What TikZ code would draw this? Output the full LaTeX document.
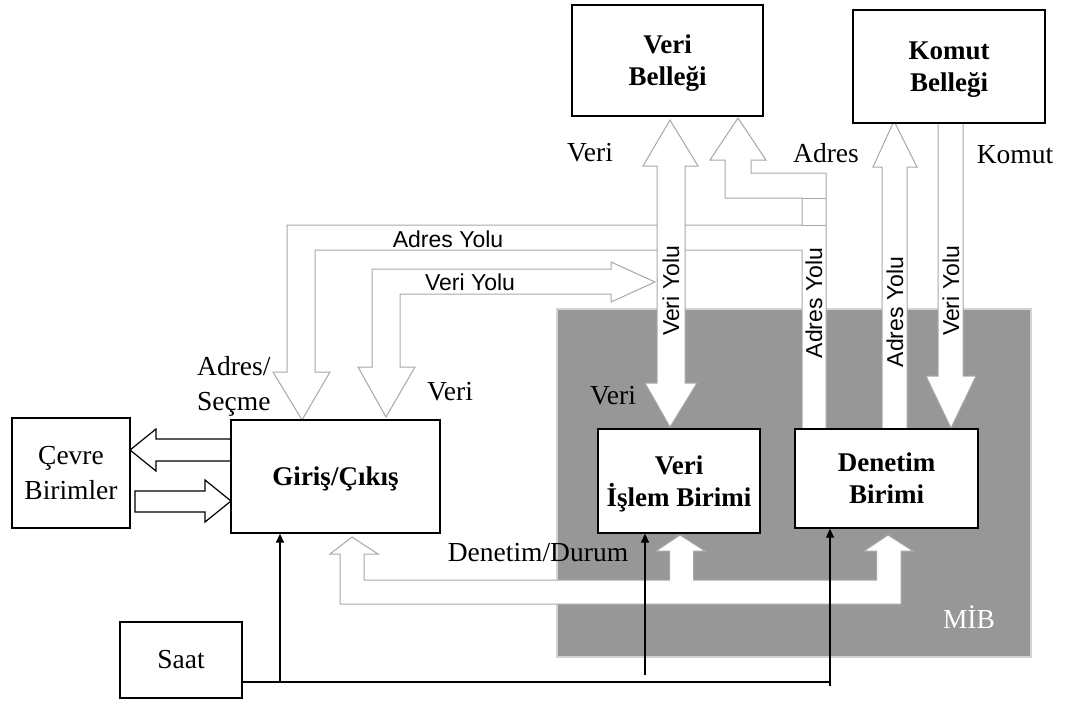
\documentclass[tikz,border=0pt]{standalone}
\usepackage{fontspec}
\setmainfont{Liberation Serif}
\newfontfamily\arialf{Liberation Sans}
\usetikzlibrary{arrows.meta}
\definecolor{mibgray}{HTML}{979797}
\definecolor{mibedge}{HTML}{D2D2D2}
\definecolor{busline}{HTML}{A8A8A8}
\tikzset{
 blk/.style={draw=black, line width=1.3pt, fill=white, inner sep=0pt, align=center, text depth=0pt, font=\fontsize{27}{32}\selectfont\bfseries},
 plainbox/.style={draw=black, line width=1.3pt, fill=white, inner sep=0pt, align=center, font=\fontsize{27.5}{35}\selectfont},
 lbl/.style={inner sep=0pt, font=\fontsize{27.5}{35}\selectfont},
 lbls/.style={inner sep=0pt, font=\arialf\fontsize{23}{26}\selectfont},
 bus/.style={draw=busline, line width=1pt, fill=white, line join=miter},
 hollow/.style={draw=black, line width=1.2pt, fill=white},
 clk/.style={line width=1.3pt, -{Triangle[length=9pt,width=8pt]}},
 clkline/.style={line width=1.3pt},
}
\begin{document}
\begin{tikzpicture}[x=1pt,y=-1pt]
\useasboundingbox (0,0) rectangle (1065,702);
% MIB region
\draw[line width=2.5pt, draw=mibedge, fill=mibgray] (557,309) rectangle (1031,657);
% address bus system
\draw[bus] (302,420) -- (330,372) -- (315,372) -- (315,250) -- (802,250) -- (802,429)
  -- (826,429) -- (826,173) -- (751,173) -- (751,160) -- (766,160) -- (738,118)
  -- (710,160) -- (725,160) -- (725,198) -- (802,198) -- (802,225) -- (287,225)
  -- (287,372) -- (273,372) -- cycle;
\draw[busline, line width=1pt] (802,198) -- (826,198) (802,225) -- (826,225);
% data bus to I/O
\draw[bus] (655,282) -- (611,302) -- (611,294) -- (400,294) -- (400,367) -- (415,367)
  -- (386,417) -- (358,367) -- (372,367) -- (372,269) -- (611,269) -- (611,262) -- cycle;
% data double arrow
\draw[bus] (670,120) -- (698,166) -- (685,166) -- (685,383) -- (697,383) -- (670,427)
  -- (645,383) -- (657,383) -- (657,166) -- (643,166) -- cycle;
% instruction memory buses
\draw[bus] (894,121) -- (917,167) -- (907,167) -- (907,429) -- (882,429) -- (882,167) -- (873,167) -- cycle;
\draw[bus] (938,123) -- (963,123) -- (963,376) -- (976,376) -- (951,428) -- (926,376) -- (938,376) -- cycle;
% control/status bus
\draw[bus] (352,537) -- (378,554) -- (364,554) -- (364,580) -- (669.5,580) -- (669.5,551)
  -- (656,551) -- (680,535) -- (705,551) -- (693.5,551) -- (693.5,580) -- (876.5,580)
  -- (876.5,551) -- (864,551) -- (888,535) -- (913,551) -- (901,551) -- (901,604)
  -- (340,604) -- (340,554) -- (330,554) -- cycle;
% peripheral arrows
\draw[hollow] (231,439) -- (156,439) -- (156,429) -- (130,450) -- (156,471) -- (156,461) -- (231,461) -- cycle;
\draw[hollow] (135,491) -- (205,491) -- (205,480) -- (231,501) -- (205,522) -- (205,512) -- (135,512) -- cycle;
% boxes
\node[blk, minimum width=191, minimum height=111] (vb) at (667.5,60.5) {Veri\\Belleği};
\node[blk, minimum width=192, minimum height=113] (kb) at (949,66.5) {Komut\\Belleği};
\node[plainbox, minimum width=118, minimum height=110] (cb) at (71,473) {Çevre\\Birimler};
\node[blk, minimum width=209, minimum height=113] (io) at (335.5,476.5) {Giriş/Çıkış};
\node[blk, minimum width=162, minimum height=104] (vib) at (679,481) {Veri\\İşlem Birimi};
\node[blk, minimum width=183, minimum height=99] (den) at (886.5,478.5) {Denetim\\Birimi};
\node[plainbox, minimum width=122, minimum height=76] (saat) at (181,660) {Saat};
% clock lines
\coordinate (c1) at (280,682);
\coordinate (c2) at (645,675);
\coordinate (c3) at (830,682);
\coordinate (c3b) at (830,686);
\draw[clkline] (saat.east |- c1) -- (c3);
\draw[clk] (c1) -- (c1 |- io.south);
\draw[clk] (c2) -- (c2 |- vib.south);
\draw[clk] (c3b) -- (c3 |- den.south);
% labels
\node[lbl] (l1) at (590,153) {Veri};
\node[lbl] (l2) at (826,153) {Adres};
\node[lbl] (l3) at (1015,155) {Komut};
\node[lbl, align=left, anchor=west] (l4) at (197,386) {Adres/\\Seçme};
\node[lbl] (l5) at (450,392) {Veri};
\node[lbl] (l6) at (613,396) {Veri};
\node[lbl] (l7) at (538,553) {Denetim/Durum};
\node[lbl, text=white] (l8) at (969,617) {MİB};
\node[lbls] (s1) at (448,239) {Adres Yolu};
\node[lbls] (s2) at (470,282) {Veri Yolu};
\node[lbls, rotate=90] (s3) at (671,291) {Veri Yolu};
\node[lbls, rotate=90] (s4) at (814,303) {Adres Yolu};
\node[lbls, rotate=90] (s5) at (895,312) {Adres Yolu};
\node[lbls, rotate=90] (s6) at (951,291) {Veri Yolu};
\end{tikzpicture}
\end{document}
